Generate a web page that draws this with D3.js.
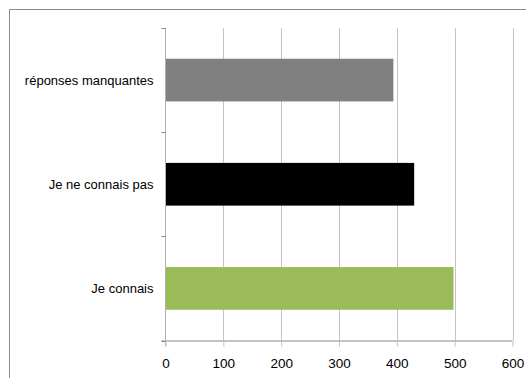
<!DOCTYPE html>
<html>
<head>
<meta charset="utf-8">
<script src="https://cdn.jsdelivr.net/npm/d3@7"></script>
<style>
  html, body { margin: 0; padding: 0; background: #fff; }
  svg { display: block; }
  text { font-family: "Liberation Sans", Arial, sans-serif; fill: #000; }
</style>
</head>
<body>
<svg id="chart" width="526" height="378"></svg>
<script>
// Survey answers, listed bottom to top
const categories = ["Je connais", "Je ne connais pas", "réponses manquantes"];
const counts = [498, 430, 394];
const barColors = ["#9bbb59", "#000000", "#808080"];
const xTicks = [0, 100, 200, 300, 400, 500, 600];

const svg = d3.select("#chart");
const plot = { left: 165.5, right: 512.5, top: 28, bottom: 340.5 };

// Outer frame (top and left edges visible)
svg.append("path")
  .attr("d", "M9.5,378V9.5H526")
  .attr("fill", "none")
  .attr("stroke", "#8c8c8c")
  .attr("stroke-width", 1);

const x = d3.scaleLinear().domain([0, 600]).range([plot.left, plot.right]);
const y = d3.scaleBand()
  .domain(categories.slice().reverse())
  .range([plot.top, plot.bottom])
  .paddingInner(0.59)
  .paddingOuter(0.295);
const yOuter = d3.scaleBand()
  .domain(categories.slice().reverse())
  .range([plot.top, plot.bottom]);

// Vertical gridlines
svg.append("g")
  .selectAll("line")
  .data(xTicks.filter(d => d > 0))
  .join("line")
  .attr("x1", d => Math.round(x(d)) + 0.5)
  .attr("x2", d => Math.round(x(d)) + 0.5)
  .attr("y1", plot.top)
  .attr("y2", plot.bottom)
  .attr("stroke", "#c4c4c4");

// Bars
svg.append("g")
  .selectAll("rect")
  .data(categories)
  .join("rect")
  .attr("x", x(0))
  .attr("y", d => y(d))
  .attr("width", (d, i) => x(counts[i]) - x(0))
  .attr("height", y.bandwidth())
  .attr("fill", (d, i) => barColors[i]);

// Category axis with ticks on band boundaries
const yAxisG = svg.append("g");
yAxisG.append("line")
  .attr("x1", plot.left).attr("x2", plot.left)
  .attr("y1", plot.top).attr("y2", plot.bottom + 6)
  .attr("stroke", "#b0b0b0");
const boundaries = categories.slice().reverse().map(c => yOuter(c)).concat([plot.bottom]);
yAxisG.selectAll("line.tick")
  .data(boundaries)
  .join("line")
  .attr("class", "tick")
  .attr("x1", plot.left - 4).attr("x2", plot.left)
  .attr("y1", d => Math.round(d) + 0.5).attr("y2", d => Math.round(d) + 0.5)
  .attr("stroke", "#868686");
yAxisG.selectAll("text")
  .data(categories)
  .join("text")
  .attr("x", plot.left - 12)
  .attr("y", d => y(d) + y.bandwidth() / 2)
  .attr("dy", "0.35em")
  .attr("text-anchor", "end")
  .attr("font-size", 13)
  .text(d => d);

// Value axis along the bottom
const xAxis = d3.axisBottom(x)
  .tickValues(xTicks)
  .tickSize(6)
  .tickPadding(12)
  .tickFormat(d3.format("d"));
const xAxisG = svg.append("g")
  .attr("transform", `translate(0,${plot.bottom})`)
  .call(xAxis);
xAxisG.select(".domain")
  .attr("d", `M${plot.left - 4},0.5H${plot.right}`)
  .attr("stroke", "#868686");
xAxisG.selectAll(".tick line").attr("stroke", "#c4c4c4");
xAxisG.selectAll(".tick text")
  .attr("font-size", 13.5)
  .attr("font-family", "Liberation Sans, Arial, sans-serif");
</script>
</body>
</html>
